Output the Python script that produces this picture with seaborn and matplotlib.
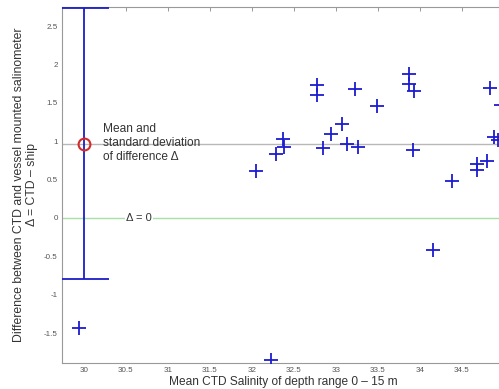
import matplotlib
matplotlib.use("Agg")
import matplotlib.pyplot as plt
import seaborn as sns
import numpy as np
import pandas as pd

# Data
salinity = [29.94, 32.05, 32.23, 32.29, 32.37, 32.38, 32.77, 32.77, 32.85, 32.94,
            33.07, 33.13, 33.23, 33.26, 33.49, 33.87, 33.87, 33.93, 33.92, 34.15,
            34.38, 34.68, 34.68, 34.80, 34.83, 34.88, 34.93, 34.96]
delta = [-1.43, 0.61, -1.85, 0.84, 1.03, 0.92, 1.73, 1.60, 0.91, 1.10,
         1.22, 0.97, 1.68, 0.93, 1.46, 1.88, 1.75, 1.66, 0.88, -0.42,
         0.48, 0.70, 0.63, 0.74, 1.70, 1.05, 1.02, 1.47]
mean_x = 30.0
mean_delta = 0.97
std_delta = 1.77
xticks = [30, 30.5, 31, 31.5, 32, 32.5, 33, 33.5, 34, 34.5]
yticks = [-1.5, -1, -0.5, 0, 0.5, 1, 1.5, 2, 2.5]

df = pd.DataFrame({"salinity": salinity, "delta": delta})

sns.set_style("white")
plt.rcParams['font.family'] = ['Liberation Sans', 'DejaVu Sans']

fig = plt.figure(figsize=(4.99, 3.89), dpi=100)
ax = fig.add_axes([62/499, 1-363/389, (504-62)/499, (363-7)/389])

ax.axhline(mean_delta, color='#b8b8b8', lw=1.0, zorder=1)
ax.axhline(0, color='#a8e0a8', lw=1.0, zorder=1)

ax.errorbar([mean_x], [mean_delta], yerr=[std_delta], fmt='none',
            ecolor='#1c1cc8', elinewidth=1.3, capsize=18, capthick=1.3, zorder=3)
ax.plot([mean_x], [mean_delta], marker='o', ms=8.5, mfc='none', mec='#d42a2a',
        mew=1.5, ls='none', zorder=4)

sns.scatterplot(data=df, x="salinity", y="delta", marker='+', s=110,
                color='#1c1cd0', linewidth=1.3, ax=ax, zorder=5)

ax.text(30.23, 0.98, "Mean and\nstandard deviation\nof difference Δ", fontsize=8.6,
        color='#333333', va='center', ha='left', linespacing=1.25)
ax.text(30.5, 0.0, "Δ = 0", fontsize=8, color='#333333', va='center', ha='left',
        bbox=dict(facecolor='white', edgecolor='none', pad=1))

ax.set_xlim(29.74, 35.0)
ax.set_ylim(-1.89, 2.75)
ax.set_xticks(xticks)
ax.set_xticklabels([f"{t:g}" for t in xticks])
ax.set_yticks(yticks)
ax.set_yticklabels([f"{t:g}" for t in yticks])
ax.tick_params(direction='in', length=3, width=0.6, colors='#888888', labelsize=5.8,
               labelcolor='#555555', top=True, right=False, pad=3)
for side in ['left', 'bottom', 'top']:
    ax.spines[side].set_color('#999999')
    ax.spines[side].set_linewidth(0.8)
ax.spines['right'].set_visible(False)

ax.set_xlabel("Mean CTD Salinity of depth range 0 – 15 m", fontsize=8.6, color='#333333', labelpad=1)
ax.set_ylabel("Difference between CTD and vessel mounted salinometer\nΔ = CTD – ship",
              fontsize=8.8, color='#333333', labelpad=4, linespacing=1.2)

fig.savefig("out.png", dpi=100)
